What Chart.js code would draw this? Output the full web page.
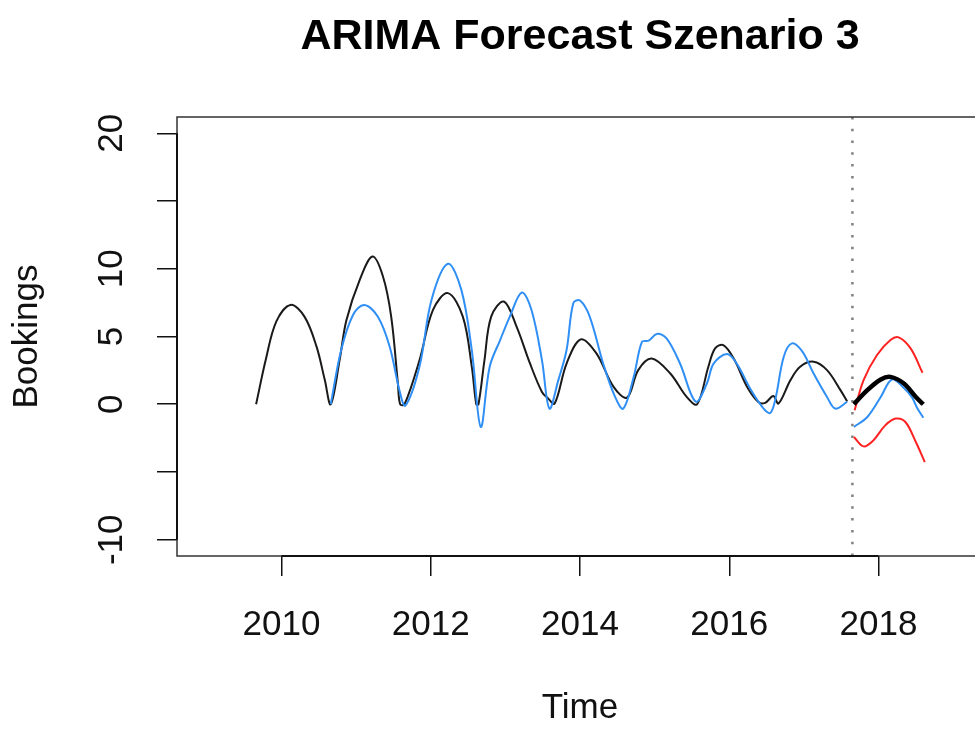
<!DOCTYPE html>
<html>
<head>
<meta charset="utf-8">
<title>ARIMA Forecast Szenario 3</title>
<script src="https://cdn.jsdelivr.net/npm/chart.js@4"></script>
<style>
  html, body { margin: 0; padding: 0; background: #fff; overflow: hidden; }
  canvas { display: block; }
</style>
</head>
<body>
<canvas id="forecast-chart" width="990" height="729"></canvas>
<script>
const actualTime = [2009.66, 2009.79, 2009.93, 2010.12, 2010.31, 2010.47, 2010.58, 2010.66, 2010.78, 2010.87, 2011.05, 2011.22, 2011.36, 2011.47, 2011.56, 2011.59, 2011.65, 2011.85, 2012.03, 2012.23, 2012.43, 2012.55, 2012.61, 2012.64, 2012.72, 2012.81, 2012.98, 2013.15, 2013.33, 2013.49, 2013.57, 2013.66, 2013.82, 2014.01, 2014.22, 2014.45, 2014.63, 2014.78, 2014.96, 2015.21, 2015.43, 2015.57, 2015.72, 2015.81, 2015.92, 2016.06, 2016.24, 2016.39, 2016.48, 2016.59, 2016.66, 2016.82, 2016.95, 2017.13, 2017.31, 2017.49, 2017.58];
const actualValue = [0, 3.3, 6.1, 7.33, 6.45, 4.25, 1.8, 0, 3.3, 6.2, 9.2, 10.9, 9.43, 6.47, 1.53, 0, 0, 3.26, 6.96, 8.2, 6.47, 2.77, 0, 0, 3.26, 6.47, 7.58, 5.73, 3.01, 0.91, 0.45, 0.05, 3.0, 4.79, 3.75, 1.28, 0.49, 2.52, 3.38, 2.27, 0.54, 0, 2.77, 4.12, 4.37, 3.38, 1.28, 0.17, 0.1, 0.6, 0.05, 1.78, 2.77, 3.14, 2.52, 1.04, 0.2];

// Fitted values of the model
const fittedTime = [2010.66, 2010.80, 2010.96, 2011.11, 2011.29, 2011.45, 2011.58, 2011.66, 2011.85, 2012.01, 2012.23, 2012.41, 2012.55, 2012.67, 2012.79, 2012.93, 2013.06, 2013.22, 2013.35, 2013.49, 2013.59, 2013.71, 2013.82, 2013.91, 2014.00, 2014.13, 2014.31, 2014.47, 2014.58, 2014.72, 2014.83, 2014.92, 2015.03, 2015.16, 2015.34, 2015.55, 2015.70, 2015.79, 2015.97, 2016.10, 2016.28, 2016.46, 2016.55, 2016.62, 2016.73, 2016.84, 2016.98, 2017.13, 2017.31, 2017.42, 2017.58];
const fittedValue = [0, 4.0, 6.6, 7.33, 6.47, 4.25, 1.04, -0.1, 2.8, 7.7, 10.37, 8.44, 4.0, -1.68, 2.77, 4.74, 6.47, 8.25, 6.96, 3.26, -0.32, 1.78, 4.0, 7.46, 7.65, 6.47, 3.01, 0.54, -0.32, 2.02, 4.61, 4.69, 5.19, 4.86, 3.01, 0.2, 1.53, 3.0, 3.7, 3.0, 1.16, -0.32, -0.64, 0.42, 3.5, 4.49, 3.88, 2.27, 0.54, -0.32, 0.17];

// Forecast period
const fcTime = [2017.67, 2017.85, 2018.03, 2018.16, 2018.34, 2018.50, 2018.60];
const fcMean = [0, 1.04, 1.83, 2.02, 1.53, 0.54, 0];
const fcModelTime = [2017.67, 2017.85, 2018.03, 2018.18, 2018.34, 2018.45, 2018.52, 2018.60];
const fcModel = [-1.68, -0.94, 0.54, 1.83, 1.2, 0.5, -0.3, -1.0];
const upperTime = [2017.68, 2017.80, 2017.98, 2018.16, 2018.27, 2018.43, 2018.59];
const upperValue = [-0.44, 1.78, 3.63, 4.74, 4.94, 4.12, 2.32];
const lowerTime = [2017.67, 2017.80, 2017.93, 2018.09, 2018.23, 2018.36, 2018.50, 2018.62];
const lowerValue = [-2.42, -3.11, -2.67, -1.56, -1.06, -1.31, -2.79, -4.27];

const forecastStart = 2017.65;

// Axes
const xTicks = [2010, 2012, 2014, 2016, 2018];
const yTicks = [-10, -5, 0, 5, 10, 15, 20];
const yLabelled = [-10, 0, 5, 10, 20];
const xRange = [2008.6, 2019.4];
const yRange = [-11.2, 21.2];

const FONT = '"Liberation Sans", Arial, Helvetica, sans-serif';

function pairs(xs, ys) {
    return xs.map((x, i) => ({ x: x, y: ys[i] }));
}

function lineSet(data, color, width) {
    return {
        data: data,
        borderColor: color,
        borderWidth: width,
        pointRadius: 0,
        fill: false,
        tension: 0.35
    };
}

// R style box and axis lines
const framePlugin = {
    id: 'frame',
    afterDatasetsDraw(chart) {
        const { ctx, chartArea: a, scales: { x, y } } = chart;
        ctx.save();
        ctx.strokeStyle = '#333';
        ctx.lineWidth = 1.5;
        ctx.strokeRect(a.left, a.top, a.right - a.left, a.bottom - a.top);
        ctx.strokeStyle = '#111';
        ctx.lineWidth = 2;
        ctx.beginPath();
        ctx.moveTo(x.getPixelForValue(xTicks[0]), a.bottom);
        ctx.lineTo(x.getPixelForValue(xTicks[xTicks.length - 1]), a.bottom);
        ctx.moveTo(a.left, y.getPixelForValue(yTicks[0]));
        ctx.lineTo(a.left, y.getPixelForValue(yTicks[yTicks.length - 1]));
        ctx.stroke();
        ctx.restore();
    }
};

function drawForecastChart() {
    const ctx = document.getElementById('forecast-chart').getContext('2d');
    new Chart(ctx, {
        type: 'line',
        data: {
            datasets: [
                lineSet(pairs(fcTime, fcMean), '#000', 4.5),
                lineSet(pairs(fcModelTime, fcModel), '#2f8ff5', 2),
                lineSet(pairs(upperTime, upperValue), '#ff2222', 2),
                lineSet(pairs(lowerTime, lowerValue), '#ff2222', 2),
                lineSet(pairs(fittedTime, fittedValue), '#2f8ff5', 2),
                lineSet(pairs(actualTime, actualValue), '#1a1a1a', 2),
                {
                    data: [{ x: forecastStart, y: yRange[0] }, { x: forecastStart, y: yRange[1] }],
                    borderColor: '#808080',
                    borderWidth: 2.5,
                    borderDash: [2.5, 9.3],
                    pointRadius: 0,
                    fill: false
                }
            ]
        },
        options: {
            responsive: false,
            animation: false,
            layout: { padding: { left: 0, right: 7, top: 0, bottom: 0 } },
            plugins: {
                legend: { display: false },
                tooltip: { enabled: false },
                title: {
                    display: true,
                    fullSize: false,
                    text: 'ARIMA Forecast Szenario 3',
                    color: '#000',
                    font: { family: FONT, size: 43, weight: 'bold', lineHeight: 1.2 },
                    padding: { top: 11, bottom: 54.4 }
                }
            },
            scales: {
                x: {
                    type: 'linear',
                    min: xRange[0],
                    max: xRange[1],
                    afterBuildTicks: s => { s.ticks = xTicks.map(v => ({ value: v })); },
                    afterFit: s => { s.height = 173; },
                    border: { display: false },
                    grid: { drawOnChartArea: false, drawTicks: true, tickLength: 20, color: '#111', lineWidth: 1.5 },
                    ticks: {
                        color: '#111',
                        padding: 28,
                        maxRotation: 0,
                        autoSkip: false,
                        font: { family: FONT, size: 35 },
                        callback: v => String(v)
                    },
                    title: {
                        display: true,
                        text: 'Time',
                        color: '#111',
                        font: { family: FONT, size: 35, lineHeight: 1.2 },
                        padding: { top: 0, bottom: 0 }
                    }
                },
                y: {
                    type: 'linear',
                    min: yRange[0],
                    max: yRange[1],
                    afterBuildTicks: s => { s.ticks = yTicks.map(v => ({ value: v })); },
                    afterFit: s => { s.width = 177; },
                    border: { display: false },
                    grid: { drawOnChartArea: false, drawTicks: true, tickLength: 20, color: '#111', lineWidth: 1.5 },
                    ticks: {
                        color: '#111',
                        padding: 19,
                        minRotation: 90,
                        maxRotation: 90,
                        crossAlign: 'center',
                        autoSkip: false,
                        font: { family: FONT, size: 35 },
                        callback: v => (yLabelled.includes(v) ? String(v) : '')
                    },
                    title: {
                        display: true,
                        text: 'Bookings',
                        color: '#111',
                        font: { family: FONT, size: 35, lineHeight: 1.2 },
                        padding: { top: 6, bottom: 0 }
                    }
                }
            }
        },
        plugins: [framePlugin]
    });
}

document.addEventListener('DOMContentLoaded', function() {
    drawForecastChart();
});
</script>
</body>
</html>
